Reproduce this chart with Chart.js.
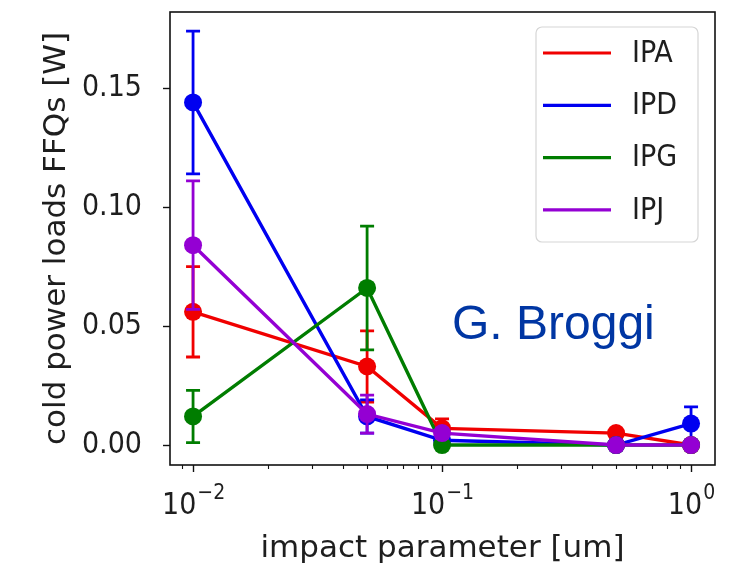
<!DOCTYPE html>
<html>
<head>
<meta charset="utf-8">
<title>Cold power loads FFQs</title>
<script src="https://cdn.jsdelivr.net/npm/chart.js@4.4.0/dist/chart.umd.min.js"></script>
<style>
  html, body { margin: 0; padding: 0; background: #fff; }
  #chart { display: block; }
</style>
</head>
<body>
<canvas id="chart" width="734" height="568"></canvas>
<script>
// ---- data ----
const impactParams = [0.01, 0.05, 0.1, 0.5, 1];
const seriesNames = ['IPA', 'IPD', 'IPG', 'IPJ'];
const seriesColors = ['#f00000', '#0000f0', '#007d00', '#9400d3'];

const ipaValues = [0.056, 0.033, 0.007, 0.005, 0.000];
const ipaErrors = [0.019, 0.015, 0.004, 0.001, 0.000];
const ipdValues = [0.144, 0.012, 0.002, 0.000, 0.009];
const ipdErrors = [0.030, 0.007, 0.001, 0.000, 0.007];
const ipgValues = [0.012, 0.066, 0.000, 0.000, 0.000];
const ipgErrors = [0.011, 0.026, 0.000, 0.000, 0.000];
const ipjValues = [0.084, 0.013, 0.005, 0.000, 0.000];
const ipjErrors = [0.027, 0.008, 0.002, 0.000, 0.000];

const xTickValues = [0.01, 0.1, 1];
const xTickLabels = [['10', '\u22122'], ['10', '\u22121'], ['10', '0']];
const yTickValues = [0, 0.05, 0.10, 0.15];
const yTickLabels = ['0.00', '0.05', '0.10', '0.15'];

const allValues = [ipaValues, ipdValues, ipgValues, ipjValues];
const allErrors = [ipaErrors, ipdErrors, ipgErrors, ipjErrors];

const TICK_FONT = '30px "DejaVu Sans Condensed", "DejaVu Sans", sans-serif';
const EXP_FONT = '21px "DejaVu Sans Condensed", "DejaVu Sans", sans-serif';

// ---- error bars, drawn just under each dataset ----
const errorBarPlugin = {
    id: 'errorBars',
    beforeDatasetDraw(chart, args) {
        const ds = chart.data.datasets[args.index];
        const xs = chart.scales.x;
        const ys = chart.scales.y;
        const ctx = chart.ctx;
        ctx.save();
        ctx.strokeStyle = ds.borderColor;
        ctx.lineWidth = 2.8;
        ds.data.forEach((p, i) => {
            const err = ds.errors[i];
            if (!err) return;
            const px = xs.getPixelForValue(p.x);
            const top = ys.getPixelForValue(p.y + err);
            const bot = ys.getPixelForValue(p.y - err);
            ctx.beginPath();
            ctx.moveTo(px, top); ctx.lineTo(px, bot);
            ctx.moveTo(px - 7, top); ctx.lineTo(px + 7, top);
            ctx.moveTo(px - 7, bot); ctx.lineTo(px + 7, bot);
            ctx.stroke();
        });
        ctx.restore();
    }
};

// ---- frame, tick marks, x tick labels, legend, annotation ----
const framePlugin = {
    id: 'frame',
    afterDraw(chart) {
        const ctx = chart.ctx;
        const a = chart.chartArea;
        const xs = chart.scales.x;
        const ys = chart.scales.y;
        ctx.save();

        // axes box
        ctx.strokeStyle = '#111';
        ctx.lineWidth = 1.6;
        ctx.strokeRect(a.left, a.top, a.right - a.left, a.bottom - a.top);

        // y ticks
        ctx.lineWidth = 1.4;
        yTickValues.forEach(v => {
            const py = Math.round(ys.getPixelForValue(v)) + 0.5;
            ctx.beginPath();
            ctx.moveTo(a.left - 7, py); ctx.lineTo(a.left, py);
            ctx.stroke();
        });

        // x ticks, major and minor
        for (let e = -3; e <= 0; e++) {
            for (let m = 1; m <= 9; m++) {
                const v = m * Math.pow(10, e);
                if (v < xs.min || v > xs.max) continue;
                const px = Math.round(xs.getPixelForValue(v)) + 0.5;
                const len = m === 1 ? 7 : 4;
                ctx.lineWidth = m === 1 ? 1.4 : 1.1;
                ctx.beginPath();
                ctx.moveTo(px, a.bottom); ctx.lineTo(px, a.bottom + len);
                ctx.stroke();
            }
        }

        // x tick labels with superscript exponent
        ctx.fillStyle = '#1e1e1e';
        xTickValues.forEach((v, i) => {
            const base = xTickLabels[i][0];
            const exp = xTickLabels[i][1];
            ctx.font = TICK_FONT;
            const wb = ctx.measureText(base).width;
            ctx.font = EXP_FONT;
            const we = ctx.measureText(exp).width;
            const px = xs.getPixelForValue(v);
            const x0 = px - (wb + we) / 2;
            ctx.textBaseline = 'alphabetic';
            ctx.textAlign = 'left';
            ctx.font = TICK_FONT;
            ctx.fillText(base, x0, a.bottom + 49);
            ctx.font = EXP_FONT;
            ctx.fillText(exp, x0 + wb + 1, a.bottom + 34);
        });

        // legend
        const lx = 536, ly = 27, lw = 162, lh = 215;
        ctx.fillStyle = 'rgba(255,255,255,0.85)';
        ctx.strokeStyle = '#d6d6d6';
        ctx.lineWidth = 1.2;
        ctx.beginPath();
        ctx.roundRect(lx, ly, lw, lh, 6);
        ctx.fill();
        ctx.stroke();
        ctx.font = TICK_FONT;
        ctx.textAlign = 'left';
        ctx.textBaseline = 'middle';
        seriesNames.forEach((name, i) => {
            const ry = 53 + i * 52.3;
            ctx.strokeStyle = seriesColors[i];
            ctx.lineWidth = 3.2;
            ctx.beginPath();
            ctx.moveTo(543, ry); ctx.lineTo(611, ry);
            ctx.stroke();
            ctx.fillStyle = '#1e1e1e';
            ctx.fillText(name, 632, ry + 1);
        });

        // author tag
        ctx.fillStyle = '#0036a3';
        ctx.font = '48px "Liberation Sans", Arial, sans-serif';
        ctx.textBaseline = 'alphabetic';
        ctx.fillText('G. Broggi', 452, 339);

        ctx.restore();
    }
};

const datasets = seriesNames.map((name, i) => ({
    label: name,
    data: impactParams.map((x, j) => ({ x: x, y: allValues[i][j] })),
    errors: allErrors[i],
    borderColor: seriesColors[i],
    backgroundColor: seriesColors[i],
    pointBackgroundColor: seriesColors[i],
    pointBorderWidth: 0,
    pointRadius: 9,
    borderWidth: 3.4,
    tension: 0,
    order: seriesNames.length - i
}));

new Chart(document.getElementById('chart'), {
    type: 'line',
    data: { datasets: datasets },
    plugins: [errorBarPlugin, framePlugin],
    options: {
        responsive: false,
        animation: false,
        events: [],
        layout: { padding: { top: 12, right: 19, left: 0, bottom: 0 } },
        plugins: {
            legend: { display: false },
            tooltip: { enabled: false }
        },
        scales: {
            x: {
                type: 'logarithmic',
                min: 0.00808,
                max: 1.248,
                grid: { display: false },
                border: { display: false },
                ticks: { display: false },
                afterBuildTicks: scale => {
                    scale.ticks = xTickValues.map(v => ({ value: v }));
                },
                afterFit: scale => {
                    scale.height = 103;
                    scale.paddingLeft = 0;
                    scale.paddingRight = 0;
                },
                title: {
                    display: true,
                    text: 'impact parameter [um]',
                    color: '#1e1e1e',
                    font: { family: '"DejaVu Sans", sans-serif', size: 31 },
                    padding: { top: 0, bottom: 0 }
                }
            },
            y: {
                type: 'linear',
                min: -0.0084,
                max: 0.182,
                grid: { display: false },
                border: { display: false },
                afterBuildTicks: scale => {
                    scale.ticks = yTickValues.map(v => ({ value: v }));
                },
                afterFit: scale => {
                    scale.width = 170;
                    scale.paddingTop = 0;
                    scale.paddingBottom = 0;
                },
                ticks: {
                    color: '#1e1e1e',
                    padding: 20,
                    font: { family: '"DejaVu Sans Condensed", "DejaVu Sans", sans-serif', size: 30 },
                    callback: (value, index) => yTickLabels[index]
                },
                title: {
                    display: true,
                    text: 'cold power loads FFQs [W]',
                    color: '#1e1e1e',
                    font: { family: '"DejaVu Sans", sans-serif', size: 31 },
                    padding: { top: 38, bottom: 0 }
                }
            }
        }
    }
});
</script>
</body>
</html>
